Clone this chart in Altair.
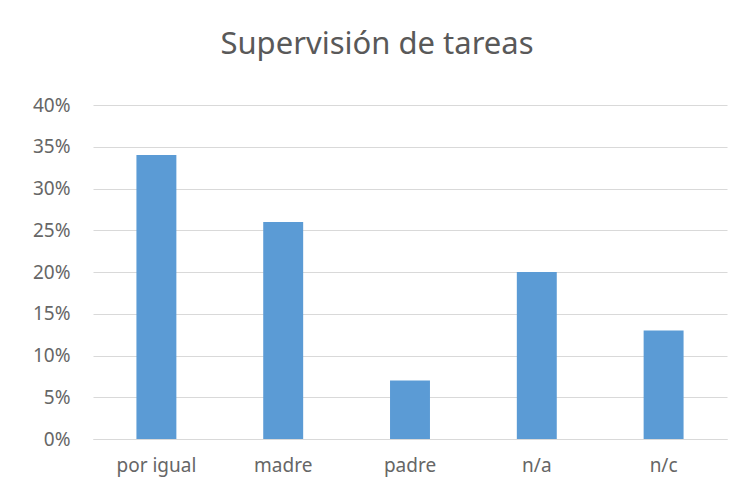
import altair as alt
import pandas as pd

categories = ["por igual", "madre", "padre", "n/a", "n/c"]
values = [0.34, 0.26, 0.07, 0.20, 0.13]

df = pd.DataFrame({"cat": categories, "val": values})

chart = alt.Chart(df).mark_bar(color="#5b9bd5").encode(
    x=alt.X("cat:N", sort=categories,
            scale=alt.Scale(paddingInner=0.685, paddingOuter=0.3425),
            axis=alt.Axis(title=None, labelAngle=0, ticks=False, domain=True,
                          domainColor="#d9d9d9", labelPadding=17,
                          labelFontSize=19, labelColor="#666666",
                          labelFont="Noto Sans", grid=False)),
    y=alt.Y("val:Q", scale=alt.Scale(domain=[0, 0.4]),
            axis=alt.Axis(title=None, format=".0%", values=[0, 0.05, 0.1, 0.15, 0.2, 0.25, 0.3, 0.35, 0.4],
                          ticks=False, domain=False, labelPadding=23,
                          labelFontSize=19, labelColor="#666666",
                          labelFont="Noto Sans", gridColor="#d9d9d9")),
).properties(
    width=634, height=334,
    title=alt.TitleParams("Supervisión de tareas", fontSize=31, font="Noto Sans",
                          fontWeight="normal", color="#595959", anchor="middle",
                          dx=-33, offset=35),
    autosize=alt.AutoSizeParams(type="none"),
    padding={"left": 85, "top": 97, "right": 8, "bottom": 50},
).configure_view(stroke=None)

chart.save("out.html", embed_options={"renderer": "svg", "actions": False})
